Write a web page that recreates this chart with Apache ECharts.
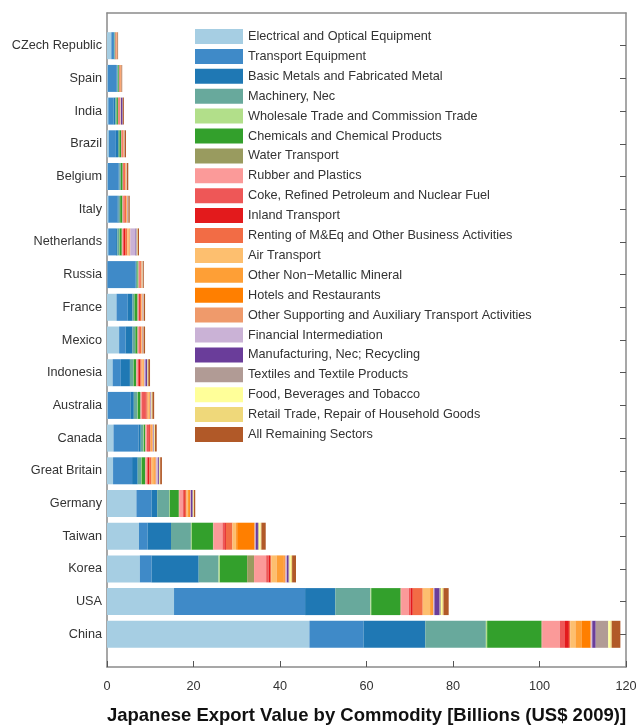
<!DOCTYPE html>
<html>
<head>
<meta charset="utf-8">
<script src="https://cdn.jsdelivr.net/npm/echarts@6/dist/echarts.min.js"></script>
<style>
html,body{margin:0;padding:0;background:#fff;}
#chart{width:636px;height:726px;}
</style>
</head>
<body>
<div id="chart"></div>
<script>
// Countries (top to bottom)
var countries = ['CZech Republic','Spain','India','Brazil','Belgium','Italy','Netherlands','Russia','France','Mexico','Indonesia','Australia','Canada','Great Britain','Germany','Taiwan','Korea','USA','China'];

var sectorNames = ['Electrical and Optical Equipment','Transport Equipment','Basic Metals and Fabricated Metal','Machinery, Nec','Wholesale Trade and Commission Trade','Chemicals and Chemical Products','Water Transport','Rubber and Plastics','Coke, Refined Petroleum and Nuclear Fuel','Inland Transport','Renting of M&Eq and Other Business Activities','Air Transport','Other Non\u2212Metallic Mineral','Hotels and Restaurants','Other Supporting and Auxiliary Transport Activities','Financial Intermediation','Manufacturing, Nec; Recycling','Textiles and Textile Products','Food, Beverages and Tobacco','Retail Trade, Repair of Household Goods','All Remaining Sectors'];

var sectorColors = ['#a6cee3','#3f8ac8','#1f78b4','#68a99c','#b2df8a','#33a02c','#999b5f','#fb9a99','#ee5757','#e31a1c','#f26c45','#fdbf6f','#fe9f36','#ff7f00','#ef9a6b','#cab2d6','#6a3d9a','#b19b95','#ffff99','#efd87a','#b15928'];

// Values in billions (US$ 2009), one array per sector, in country order
var electrical     = [1.0, 0.2, 0.3, 0.4, 0.2, 0.3, 0.3, 0.1, 2.2, 2.8, 1.3, 0.2, 1.5, 1.4, 6.8, 7.4, 7.6, 15.5, 46.8];
var transport      = [0.6, 2.0, 1.2, 1.65, 2.5, 2.1, 1.8, 6.5, 2.6, 1.5, 1.9, 5.2, 5.8, 4.4, 3.5, 2.0, 2.7, 30.3, 12.5];
var basicMetals    = [0.1, 0.2, 0.4, 0.5, 0.2, 0.3, 0.3, 0.1, 1.1, 1.6, 2.1, 0.8, 0.5, 1.3, 1.3, 5.4, 10.9, 7.0, 14.3];
var machinery      = [0.1, 0.2, 0.3, 0.3, 0.3, 0.3, 0.4, 0.3, 0.4, 0.6, 0.8, 0.8, 0.6, 0.8, 2.8, 4.6, 4.6, 8.1, 14.0];
var wholesale      = [0.02, 0.02, 0.02, 0.02, 0.02, 0.05, 0.1, 0.05, 0.05, 0.05, 0.05, 0.1, 0.1, 0.1, 0.1, 0.2, 0.3, 0.2, 0.3];
var chemicals      = [0.1, 0.2, 0.3, 0.4, 0.4, 0.5, 0.5, 0.2, 0.7, 0.5, 0.6, 0.6, 0.3, 0.8, 2.1, 4.9, 6.3, 6.7, 12.5];
var waterTransport = [0.02, 0.02, 0.02, 0.02, 0.02, 0.05, 0.1, 0.05, 0.05, 0.05, 0.05, 0.1, 0.1, 0.1, 0.1, 0.1, 1.6, 0.2, 0.2];
var rubber         = [0.05, 0.05, 0.1, 0.1, 0.1, 0.2, 0.2, 0.2, 0.2, 0.3, 0.3, 0.3, 0.3, 0.3, 0.8, 2.1, 2.8, 1.8, 4.1];
var coke           = [0.05, 0.05, 0.1, 0.1, 0.1, 0.1, 0.2, 0.05, 0.1, 0.1, 0.3, 0.8, 0.5, 0.2, 0.2, 0.6, 0.6, 0.4, 1.2];
var inlandTransport= [0.05, 0.05, 0.1, 0.1, 0.1, 0.1, 0.3, 0.1, 0.2, 0.1, 0.3, 0.2, 0.2, 0.4, 0.3, 0.2, 0.3, 0.5, 0.9];
var renting        = [0.1, 0.15, 0.15, 0.2, 0.3, 0.4, 0.5, 0.2, 0.3, 0.3, 0.3, 0.3, 0.2, 0.5, 0.4, 1.5, 0.3, 2.3, 0.3];
var airTransport   = [0.05, 0.05, 0.05, 0.05, 0.1, 0.1, 0.3, 0.05, 0.1, 0.1, 0.2, 0.2, 0.1, 0.4, 0.3, 0.8, 1.2, 1.7, 1.2];
var nonMetallic    = [0.03, 0.03, 0.05, 0.05, 0.05, 0.1, 0.1, 0.05, 0.1, 0.1, 0.2, 0.2, 0.2, 0.3, 0.3, 0.3, 1.6, 0.5, 1.5];
var hotels         = [0.02, 0.02, 0.02, 0.02, 0.03, 0.05, 0.1, 0.05, 0.05, 0.05, 0.1, 0.1, 0.1, 0.2, 0.2, 4.0, 0.3, 0.2, 2.0];
var otherTransport = [0.02, 0.02, 0.02, 0.02, 0.05, 0.05, 0.2, 0.05, 0.05, 0.05, 0.1, 0.1, 0.1, 0.2, 0.1, 0.1, 0.2, 0.1, 0.2];
var financial      = [0.02, 0.02, 0.1, 0.05, 0.05, 0.05, 1.2, 0.05, 0.1, 0.05, 0.3, 0.1, 0.1, 0.4, 0.1, 0.2, 0.3, 0.2, 0.2];
var manufacturing  = [0.02, 0.02, 0.4, 0.05, 0.03, 0.05, 0.2, 0.05, 0.05, 0.05, 0.4, 0.1, 0.1, 0.2, 0.4, 0.5, 0.4, 1.2, 0.8];
var textiles       = [0.02, 0.02, 0.03, 0.03, 0.03, 0.05, 0.1, 0.05, 0.05, 0.05, 0.1, 0.1, 0.1, 0.1, 0.1, 0.2, 0.2, 0.3, 2.9];
var food           = [0.02, 0.02, 0.02, 0.02, 0.02, 0.05, 0.1, 0.05, 0.05, 0.05, 0.1, 0.1, 0.1, 0.1, 0.1, 0.4, 0.3, 0.3, 0.5];
var retail         = [0.02, 0.02, 0.02, 0.02, 0.02, 0.05, 0.1, 0.05, 0.05, 0.05, 0.05, 0.1, 0.1, 0.1, 0.1, 0.2, 0.3, 0.3, 0.3];
var remaining      = [0.15, 0.15, 0.2, 0.3, 0.3, 0.3, 0.3, 0.2, 0.3, 0.35, 0.4, 0.4, 0.4, 0.4, 0.3, 1.0, 0.9, 1.2, 2.0];

var xTicks = {min: 0, max: 120, interval: 20};

var sectorValues = [electrical, transport, basicMetals, machinery, wholesale, chemicals, waterTransport, rubber, coke, inlandTransport, renting, airTransport, nonMetallic, hotels, otherTransport, financial, manufacturing, textiles, food, retail, remaining];

// pad categories so that ticks sit half a step in from the frame
var cats = [''].concat(countries).concat(['']);

var series = sectorNames.map(function (name, i) {
  return {
    name: name,
    type: 'bar',
    stack: 'total',
    barWidth: 27,
    itemStyle: {color: sectorColors[i]},
    emphasis: {disabled: true},
    data: [null].concat(sectorValues[i]).concat([null])
  };
});

var axisColor = '#8a8a8a';
var font = 'Liberation Sans, Arial, sans-serif';

var chart = echarts.init(document.getElementById('chart'), null, {renderer: 'canvas'});
chart.setOption({
  animation: false,
  backgroundColor: '#ffffff',
  textStyle: {fontFamily: font},
  grid: {left: 107, right: 10, top: 13, bottom: 59, containLabel: false, outerBoundsMode: 'none'},
  legend: {
    orient: 'vertical',
    left: 190,
    top: 24,
    itemWidth: 48,
    itemHeight: 15,
    itemGap: 4.9,
    icon: 'rect',
    selectedMode: false,
    textStyle: {fontSize: 12.7, color: '#333', fontFamily: font},
    data: sectorNames
  },
  xAxis: [{
    type: 'value',
    position: 'bottom',
    min: xTicks.min, max: xTicks.max, interval: xTicks.interval,
    axisLine: {show: true, lineStyle: {color: axisColor, width: 1.5}},
    axisTick: {show: true, inside: true, length: 6, lineStyle: {color: '#555', width: 1}},
    axisLabel: {color: '#333', fontSize: 12.7, margin: 13, fontFamily: font},
    splitLine: {show: false},
    name: 'Japanese Export Value by Commodity [Billions (US$ 2009)]',
    nameLocation: 'middle',
    nameGap: 39,
    nameTextStyle: {fontSize: 18.5, fontWeight: 'bold', color: '#111', fontFamily: font}
  }, {
    type: 'value',
    position: 'top',
    min: xTicks.min, max: xTicks.max, interval: xTicks.interval,
    axisLine: {show: true, onZero: false, lineStyle: {color: axisColor, width: 1.5}},
    axisTick: {show: false},
    axisLabel: {show: false},
    splitLine: {show: false}
  }],
  yAxis: [{
    type: 'category',
    data: cats,
    inverse: true,
    boundaryGap: false,
    position: 'left',
    axisLine: {show: true, onZero: false, lineStyle: {color: axisColor, width: 1.5}},
    axisTick: {show: false},
    axisLabel: {color: '#333', fontSize: 12.7, margin: 5, fontFamily: font, interval: 0},
    splitLine: {show: false}
  }, {
    type: 'category',
    data: cats,
    inverse: true,
    boundaryGap: false,
    position: 'right',
    axisLine: {show: true, onZero: false, lineStyle: {color: axisColor, width: 1.5}},
    axisTick: {show: true, inside: true, length: 6, interval: function (idx, val) { return val !== ''; }, lineStyle: {color: '#555', width: 1}},
    axisLabel: {show: false},
    splitLine: {show: false}
  }],
  series: series
});
</script>
</body>
</html>
